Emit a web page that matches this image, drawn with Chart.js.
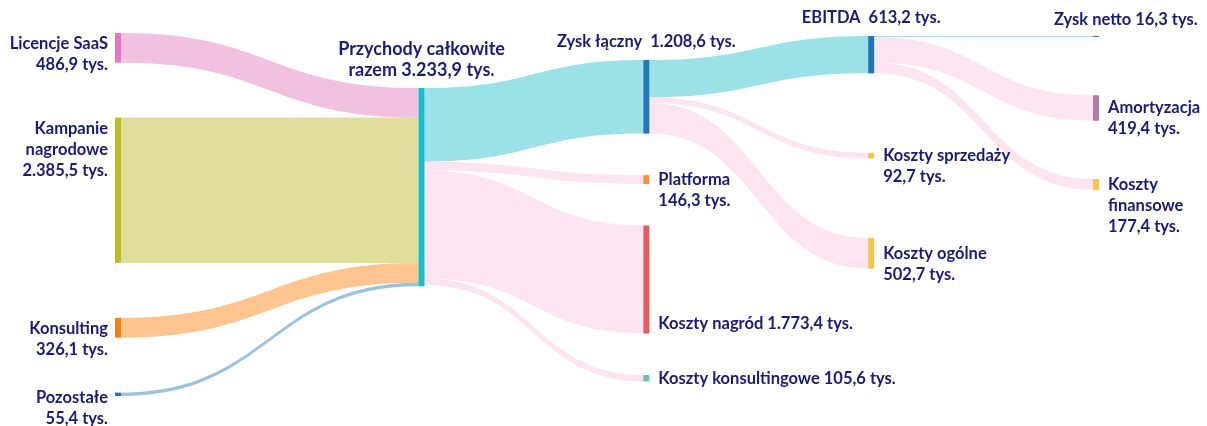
<!DOCTYPE html>
<html lang="pl">
<head>
<meta charset="UTF-8">
<title>Przychody i koszty – diagram Sankeya</title>
<script src="https://cdn.jsdelivr.net/npm/chart.js"></script>
<style>
  html, body { margin: 0; padding: 0; background: #ffffff; }
  #wrap { position: relative; width: 1207px; height: 426px; }
</style>
</head>
<body>
<div id="wrap"><canvas id="sankey"></canvas></div>
<script>
// węzły, w kolejności od góry w każdej kolumnie
const nodeNames = ['Licencje SaaS', 'Kampanie nagrodowe', 'Konsulting', 'Pozostałe',
  'Przychody całkowite',
  'Zysk łączny', 'Platforma', 'Koszty nagród', 'Koszty konsultingowe',
  'EBITDA', 'Koszty sprzedaży', 'Koszty ogólne',
  'Zysk netto', 'Amortyzacja', 'Koszty finansowe'];
const nodeColumn = [0, 0, 0, 0, 1, 2, 2, 2, 2, 3, 3, 3, 4, 4, 4];

// przepływy w tys.
const linkFrom = ['Licencje SaaS', 'Kampanie nagrodowe', 'Konsulting', 'Pozostałe',
  'Przychody całkowite', 'Przychody całkowite', 'Przychody całkowite', 'Przychody całkowite',
  'Zysk łączny', 'Zysk łączny', 'Zysk łączny',
  'EBITDA', 'EBITDA', 'EBITDA'];
const linkTo = ['Przychody całkowite', 'Przychody całkowite', 'Przychody całkowite', 'Przychody całkowite',
  'Zysk łączny', 'Platforma', 'Koszty nagród', 'Koszty konsultingowe',
  'EBITDA', 'Koszty sprzedaży', 'Koszty ogólne',
  'Zysk netto', 'Amortyzacja', 'Koszty finansowe'];
const linkValue = [486.9, 2385.5, 326.1, 55.4,
  1208.6, 146.3, 1773.4, 105.6,
  613.2, 92.7, 502.7,
  16.3, 419.4, 177.4];

// opisy węzłów
const nodeLabels = [
  ['Licencje SaaS', '486,9 tys.'],
  ['Kampanie', 'nagrodowe', '2.385,5 tys.'],
  ['Konsulting', '326,1 tys.'],
  ['Pozostałe', '55,4 tys.'],
  ['Przychody całkowite', 'razem 3.233,9 tys.'],
  ['Zysk łączny  1.208,6 tys.'],
  ['Platforma', '146,3 tys.'],
  ['Koszty nagród 1.773,4 tys.'],
  ['Koszty konsultingowe 105,6 tys.'],
  ['EBITDA  613,2 tys.'],
  ['Koszty sprzedaży', '92,7 tys.'],
  ['Koszty ogólne', '502,7 tys.'],
  ['Zysk netto 16,3 tys.'],
  ['Amortyzacja', '419,4 tys.'],
  ['Koszty', 'finansowe', '177,4 tys.']
];

// wygląd
const nodeColors = ['#e377c2', '#bcbd22', '#ff7f0e', '#1f77b4',
  '#17becf',
  '#1f77b4', '#f7923a', '#e45c5c', '#6cbfb3',
  '#1f77b4', '#f0c64d', '#f0c64d',
  '#1f77b4', '#b07aa1', '#f0c64d'];
const linkColors = ['#f2c1e2', '#dfdf9b', '#ffc48f', '#9cc3de',
  '#9de1e8', '#fde4f1', '#fde4f1', '#fde4f1',
  '#9de1e8', '#fde4f1', '#fde4f1',
  '#9de1e8', '#fde4f1', '#fde4f1'];
const labelPlace = ['left', 'left', 'left', 'left',
  'above',
  'above', 'right', 'rightBottom', 'right',
  'above', 'right', 'right',
  'aboveRight', 'right', 'right'];
const labelSize = [16.5, 16.5, 16.5, 16.5, 18, 16.5, 16.5, 16.5, 16.5, 16.5, 16.5, 16.5, 16.5, 16.5, 16.5];

// układ kolumn
const columnX = [0, 1.35, 2.35, 3.35, 4.35];
const columnGap = [null, 0, 41.5, 79.5, 58.3];     // px między węzłami, null = cała wysokość
const columnAlign = [0, 0.334, 0.65, 0.023, 0.014]; // część wolnego miejsca nad kolumną
const yRange = 5960;  // zakres osi y w tys.
const nodeWidth = 6;

const textColor = '#1b1b6f';
const lineH = 21;

function buildLayout(chart) {
  const x = chart.scales.x, y = chart.scales.y;
  const pxPerUnit = (y.getPixelForValue(1000) - y.getPixelForValue(0)) / 1000;
  const nodes = nodeNames.map((name, i) => ({ name, i, col: nodeColumn[i], inV: 0, outV: 0 }));
  const byName = {};
  nodes.forEach(n => byName[n.name] = n);
  const links = linkValue.map((v, i) => ({ s: byName[linkFrom[i]], t: byName[linkTo[i]], v, color: linkColors[i] }));
  links.forEach(l => { l.s.outV += l.v; l.t.inV += l.v; });
  nodes.forEach(n => n.value = Math.max(n.inV, n.outV));

  // pozycje pionowe w jednostkach osi y
  for (let c = 0; c < columnX.length; c++) {
    const col = nodes.filter(n => n.col === c);
    const sum = col.reduce((a, n) => a + n.value, 0);
    let gap, top;
    if (columnGap[c] === null) {
      gap = col.length > 1 ? (yRange - sum) / (col.length - 1) : 0;
      top = 0;
    } else {
      gap = columnGap[c] / pxPerUnit;
      const free = yRange - sum - gap * (col.length - 1);
      top = free * columnAlign[c];
    }
    let cur = top;
    col.forEach(n => { n.y0 = cur; n.y1 = cur + n.value; cur = n.y1 + gap; });
  }
  // kolejność przepływów na węzłach
  nodes.forEach(n => { n.outCur = n.y0; n.inCur = n.y0; });
  links.forEach(l => {
    l.sy0 = l.s.outCur; l.s.outCur += l.v; l.sy1 = l.s.outCur;
    l.ty0 = l.t.inCur; l.t.inCur += l.v; l.ty1 = l.t.inCur;
  });
  nodes.forEach(n => {
    n.px = x.getPixelForValue(columnX[n.col]);
    n.top = y.getPixelForValue(n.y0);
    n.bottom = y.getPixelForValue(n.y1);
  });
  return { nodes, links, x, y };
}

const sankeyPlugin = {
  id: 'sankey',
  afterDatasetsDraw(chart) {
    const { nodes, links, y } = buildLayout(chart);
    const ctx = chart.ctx;
    ctx.save();

    // przepływy
    links.forEach(l => {
      const x0 = l.s.px + nodeWidth / 2, x1 = l.t.px - nodeWidth / 2;
      const xm = (x0 + x1) / 2;
      const a0 = y.getPixelForValue(l.sy0), a1 = y.getPixelForValue(l.sy1);
      const b0 = y.getPixelForValue(l.ty0), b1 = y.getPixelForValue(l.ty1);
      ctx.beginPath();
      ctx.moveTo(x0, a0);
      ctx.bezierCurveTo(xm, a0, xm, b0, x1, b0);
      ctx.lineTo(x1, b1);
      ctx.bezierCurveTo(xm, b1, xm, a1, x0, a1);
      ctx.closePath();
      ctx.fillStyle = l.color;
      ctx.fill();
    });

    // węzły
    nodes.forEach(n => {
      ctx.fillStyle = nodeColors[n.i];
      ctx.fillRect(n.px - nodeWidth / 2, n.top, nodeWidth, Math.max(1, n.bottom - n.top));
    });

    // opisy
    ctx.fillStyle = textColor;
    ctx.textBaseline = 'middle';
    const H = chart.height;
    nodes.forEach(n => {
      const lines = nodeLabels[n.i];
      const place = labelPlace[n.i];
      ctx.font = 'bold ' + labelSize[n.i] + 'px Lato, "Open Sans", sans-serif';
      let tx, ty;
      if (place === 'left') {
        ctx.textAlign = 'right';
        tx = n.px - nodeWidth / 2 - 7;
        ty = n.top + 11;
        const last = ty + (lines.length - 1) * lineH;
        if (last > H - 7) ty -= last - (H - 7);
      } else if (place === 'above') {
        ctx.textAlign = 'center';
        tx = n.px;
        ty = n.top - 18 - (lines.length - 1) * lineH;
      } else if (place === 'aboveRight') {
        ctx.textAlign = 'left';
        tx = n.px - 42;
        ty = n.top - 16;
      } else if (place === 'rightBottom') {
        ctx.textAlign = 'left';
        tx = n.px + nodeWidth / 2 + 9;
        ty = n.bottom - 10 - (lines.length - 1) * lineH;
      } else {
        ctx.textAlign = 'left';
        tx = n.px + nodeWidth / 2 + 9;
        ty = (n.top + n.bottom) / 2;
      }
      lines.forEach((t, k) => ctx.fillText(t, tx, ty + k * lineH));
    });
    ctx.restore();
  }
};

new Chart(document.getElementById('sankey'), {
  type: 'scatter',
  data: { datasets: [{ data: [] }] },
  options: {
    responsive: true,
    maintainAspectRatio: false,
    animation: false,
    layout: { padding: { top: 33, bottom: 30, left: 118, right: 111 } },
    plugins: { legend: { display: false }, tooltip: { enabled: false } },
    scales: {
      x: { type: 'linear', min: 0, max: columnX[columnX.length - 1], display: false },
      y: { type: 'linear', min: 0, max: yRange, reverse: true, display: false }
    }
  },
  plugins: [sankeyPlugin]
});
</script>
</body>
</html>
